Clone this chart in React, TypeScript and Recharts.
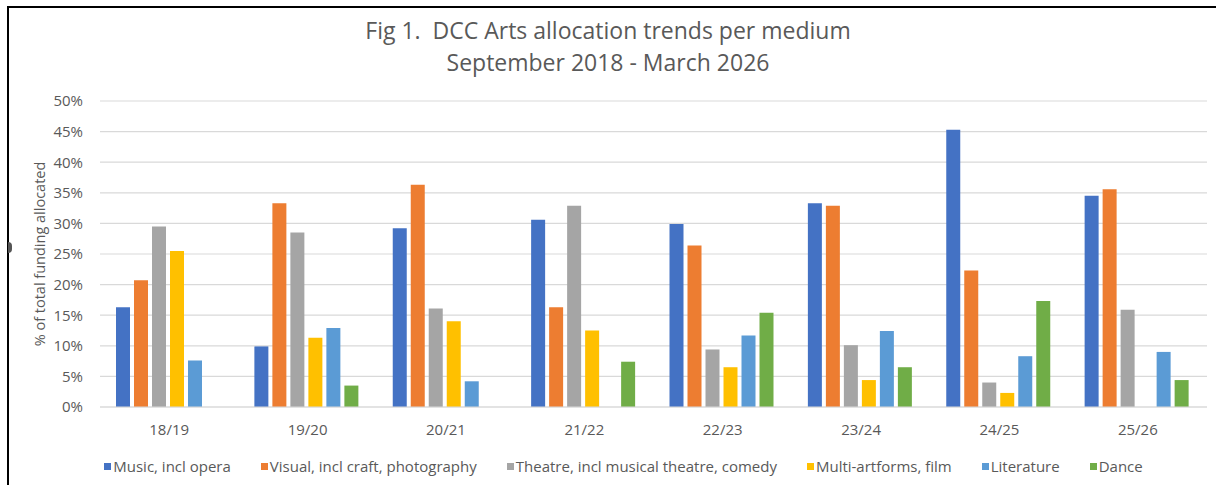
import React from 'react';
import { BarChart, Bar, XAxis, YAxis, CartesianGrid, Legend } from 'recharts';

const categories = ['18/19', '19/20', '20/21', '21/22', '22/23', '23/24', '24/25', '25/26'];
const music = [16.3, 9.9, 29.2, 30.6, 29.9, 33.3, 45.3, 34.5];
const visual = [20.7, 33.3, 36.3, 16.3, 26.4, 32.9, 22.3, 35.6];
const theatre = [29.5, 28.5, 16.1, 32.9, 9.4, 10.1, 4.0, 15.9];
const multi = [25.5, 11.3, 14.0, 12.5, 6.5, 4.4, 2.3, 0];
const literature = [7.6, 12.9, 4.2, 0, 11.7, 12.4, 8.3, 9.0];
const dance = [0, 3.5, 0, 7.4, 15.4, 6.5, 17.3, 4.4];
const yTicks = [0, 5, 10, 15, 20, 25, 30, 35, 40, 45, 50];

const series = [
  { key: 'music', name: 'Music, incl opera', color: '#4472C4', values: music },
  { key: 'visual', name: 'Visual, incl craft, photography', color: '#ED7D31', values: visual },
  { key: 'theatre', name: 'Theatre, incl musical theatre, comedy', color: '#A5A5A5', values: theatre },
  { key: 'multi', name: 'Multi-artforms, film', color: '#FFC000', values: multi },
  { key: 'literature', name: 'Literature', color: '#5B9BD5', values: literature },
  { key: 'dance', name: 'Dance', color: '#70AD47', values: dance },
];

const data = categories.map((c, i) => {
  const row: Record<string, string | number> = { category: c };
  series.forEach((s) => {
    row[s.key] = s.values[i];
  });
  return row;
});

const FONT = '"Open Sans", "Noto Sans", sans-serif';
const GREY = '#595959';

const renderLegend = () => (
  <div
    style={{
      display: 'flex',
      justifyContent: 'center',
      alignItems: 'center',
      gap: 30,
      fontFamily: FONT,
      fontSize: 15,
      color: GREY,
      height: 30,
    }}
  >
    {series.map((s) => (
      <div key={s.key} style={{ display: 'flex', alignItems: 'center' }}>
        <span style={{ display: 'inline-block', width: 7, height: 7, background: s.color, marginRight: 2 }} />
        <span>{s.name}</span>
      </div>
    ))}
  </div>
);

export default function App() {
  return (
    <div style={{ position: 'absolute', left: 0, top: 0, width: 1216, height: 485, background: '#fff', overflow: 'hidden' }}>
      <div
        style={{
          position: 'absolute',
          left: 7,
          top: 6,
          width: 1216,
          height: 485,
          borderTop: '2px solid #000',
          borderLeft: '2px solid #000',
        }}
      />
      <div
        style={{
          position: 'absolute',
          left: 8,
          top: 242,
          width: 4,
          height: 11,
          borderRadius: '0 6px 6px 0',
          background: '#555',
        }}
      />
      <div
        style={{
          position: 'absolute',
          left: 0,
          top: 14,
          width: 1216,
          textAlign: 'center',
          fontFamily: FONT,
          fontSize: 23,
          color: GREY,
          lineHeight: '32px',
          whiteSpace: 'pre',
        }}
      >
        {'Fig 1.  DCC Arts allocation trends per medium\nSeptember 2018 - March 2026'}
      </div>
      <BarChart
        width={1216}
        height={485}
        data={data}
        margin={{ top: 101, right: 9, left: 40, bottom: 4 }}
        barCategoryGap={16}
        barGap={4}
      >
        <CartesianGrid vertical={false} stroke="#d9d9d9" strokeWidth={1.2} />
        <XAxis
          dataKey="category"
          height={44}
          tickLine={false}
          axisLine={{ stroke: '#d9d9d9', strokeWidth: 1.2 }}
          tickMargin={11}
          tick={{ fill: GREY, fontSize: 15, fontFamily: FONT }}
        />
        <YAxis
          width={60}
          domain={[0, 50]}
          ticks={yTicks}
          interval={0}
          tickLine={false}
          axisLine={false}
          tickMargin={11}
          tickFormatter={(v: number) => `${v}%`}
          tick={{ fill: GREY, fontSize: 15, fontFamily: FONT }}
          label={{
            value: '% of total funding allocated',
            angle: -90,
            position: 'insideLeft',
            offset: 0,
            style: { textAnchor: 'middle', fill: GREY, fontSize: 14.5, fontFamily: FONT },
          }}
        />
        <Legend verticalAlign="bottom" height={30} content={renderLegend} />
        {series.map((s) => (
          <Bar key={s.key} dataKey={s.key} name={s.name} fill={s.color} isAnimationActive={false} />
        ))}
      </BarChart>
    </div>
  );
}
